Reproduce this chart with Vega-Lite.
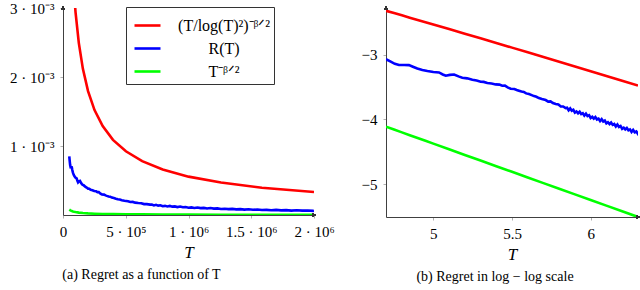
{
  "$schema": "https://vega.github.io/schema/vega-lite/v6.json",
  "padding": {"top": 1, "left": 0, "right": 0, "bottom": 0},
  "autosize": {"type": "pad"},
  "background": "white",
  "config": {
    "font": "Liberation Serif",
    "style": {"guide-label": {"font": "Liberation Serif"}, "guide-title": {"font": "Liberation Serif"}, "group-title": {"font": "Liberation Serif"}},
    "view": {"stroke": null},
    "axis": {"grid": false, "domainColor": "#404040", "domainWidth": 1, "tickColor": "#b0b0b0", "tickSize": 3, "labelFont": "Liberation Serif", "labelFontSize": 15, "labelColor": "black", "labelPadding": 6, "titleFont": "Liberation Serif", "titleFontStyle": "italic", "titleFontWeight": "normal", "titleFontSize": 17, "titleColor": "black", "labelFlush": false, "labelOverlap": false},
    "legend": {"labelFont": "Liberation Serif"},
    "title": {"font": "Liberation Serif", "fontSize": 14, "fontWeight": "normal", "color": "black"}
  },
  "datasets": {
    "d": [
      {"s": "(T/log(T)²)⁻ᵝᐟ²", "T": 50000, "R": 0.004786, "lT": 4.699, "lR": -2.320},
      {"s": "(T/log(T)²)⁻ᵝᐟ²", "T": 56234, "R": 0.004416, "lT": 4.75, "lR": -2.355},
      {"s": "(T/log(T)²)⁻ᵝᐟ²", "T": 63096, "R": 0.004074, "lT": 4.8, "lR": -2.390},
      {"s": "(T/log(T)²)⁻ᵝᐟ²", "T": 70795, "R": 0.003750, "lT": 4.85, "lR": -2.426},
      {"s": "(T/log(T)²)⁻ᵝᐟ²", "T": 79433, "R": 0.003459, "lT": 4.9, "lR": -2.461},
      {"s": "(T/log(T)²)⁻ᵝᐟ²", "T": 89125, "R": 0.003192, "lT": 4.95, "lR": -2.496},
      {"s": "(T/log(T)²)⁻ᵝᐟ²", "T": 100000, "R": 0.002938, "lT": 5.0, "lR": -2.532},
      {"s": "(T/log(T)²)⁻ᵝᐟ²", "T": 125893, "R": 0.002495, "lT": 5.1, "lR": -2.603},
      {"s": "(T/log(T)²)⁻ᵝᐟ²", "T": 158489, "R": 0.002118, "lT": 5.2, "lR": -2.674},
      {"s": "(T/log(T)²)⁻ᵝᐟ²", "T": 199526, "R": 0.001795, "lT": 5.3, "lR": -2.746},
      {"s": "(T/log(T)²)⁻ᵝᐟ²", "T": 251189, "R": 0.001521, "lT": 5.4, "lR": -2.818},
      {"s": "(T/log(T)²)⁻ᵝᐟ²", "T": 316228, "R": 0.001288, "lT": 5.5, "lR": -2.890},
      {"s": "(T/log(T)²)⁻ᵝᐟ²", "T": 398107, "R": 0.001089, "lT": 5.6, "lR": -2.963},
      {"s": "(T/log(T)²)⁻ᵝᐟ²", "T": 501187, "R": 0.000923, "lT": 5.7, "lR": -3.035},
      {"s": "(T/log(T)²)⁻ᵝᐟ²", "T": 630957, "R": 0.000780, "lT": 5.8, "lR": -3.108},
      {"s": "(T/log(T)²)⁻ᵝᐟ²", "T": 794328, "R": 0.000659, "lT": 5.9, "lR": -3.181},
      {"s": "(T/log(T)²)⁻ᵝᐟ²", "T": 1000000, "R": 0.000556, "lT": 6.0, "lR": -3.255},
      {"s": "(T/log(T)²)⁻ᵝᐟ²", "T": 1258925, "R": 0.000470, "lT": 6.1, "lR": -3.328},
      {"s": "(T/log(T)²)⁻ᵝᐟ²", "T": 1584893, "R": 0.000396, "lT": 6.2, "lR": -3.402},
      {"s": "(T/log(T)²)⁻ᵝᐟ²", "T": 2000000, "R": 0.000333, "lT": 6.301, "lR": -3.477},

      {"s": "R(T)", "T": 50000, "R": 0.000851, "lT": 4.699, "lR": -3.070},
      {"s": "R(T)", "T": 53580, "R": 0.000780, "lT": 4.729, "lR": -3.108},
      {"s": "R(T)", "T": 56885, "R": 0.000724, "lT": 4.755, "lR": -3.140},
      {"s": "R(T)", "T": 60534, "R": 0.000693, "lT": 4.782, "lR": -3.159},
      {"s": "R(T)", "T": 65313, "R": 0.000695, "lT": 4.815, "lR": -3.158},
      {"s": "R(T)", "T": 69984, "R": 0.000692, "lT": 4.845, "lR": -3.160},
      {"s": "R(T)", "T": 74131, "R": 0.000653, "lT": 4.870, "lR": -3.185},
      {"s": "R(T)", "T": 79068, "R": 0.000614, "lT": 4.898, "lR": -3.212},
      {"s": "R(T)", "T": 85114, "R": 0.000582, "lT": 4.930, "lR": -3.235},
      {"s": "R(T)", "T": 91622, "R": 0.000560, "lT": 4.962, "lR": -3.252},
      {"s": "R(T)", "T": 100000, "R": 0.000540, "lT": 5.000, "lR": -3.268},
      {"s": "R(T)", "T": 108643, "R": 0.000532, "lT": 5.036, "lR": -3.274},
      {"s": "R(T)", "T": 114815, "R": 0.000495, "lT": 5.060, "lR": -3.305},
      {"s": "R(T)", "T": 119950, "R": 0.000473, "lT": 5.079, "lR": -3.325},
      {"s": "R(T)", "T": 127350, "R": 0.000488, "lT": 5.105, "lR": -3.312},
      {"s": "R(T)", "T": 135519, "R": 0.000495, "lT": 5.132, "lR": -3.305},
      {"s": "R(T)", "T": 144544, "R": 0.000462, "lT": 5.160, "lR": -3.335},
      {"s": "R(T)", "T": 152757, "R": 0.000441, "lT": 5.184, "lR": -3.356},
      {"s": "R(T)", "T": 164059, "R": 0.000432, "lT": 5.215, "lR": -3.365},
      {"s": "R(T)", "T": 177011, "R": 0.000410, "lT": 5.248, "lR": -3.387},
      {"s": "R(T)", "T": 188365, "R": 0.000398, "lT": 5.275, "lR": -3.400},
      {"s": "R(T)", "T": 199986, "R": 0.000382, "lT": 5.301, "lR": -3.418},
      {"s": "R(T)", "T": 208930, "R": 0.000380, "lT": 5.320, "lR": -3.420},
      {"s": "R(T)", "T": 220293, "R": 0.000365, "lT": 5.343, "lR": -3.438},
      {"s": "R(T)", "T": 234423, "R": 0.000359, "lT": 5.370, "lR": -3.445},
      {"s": "R(T)", "T": 248886, "R": 0.000348, "lT": 5.396, "lR": -3.459},
      {"s": "R(T)", "T": 263027, "R": 0.000345, "lT": 5.420, "lR": -3.462},
      {"s": "R(T)", "T": 274157, "R": 0.000331, "lT": 5.438, "lR": -3.480},
      {"s": "R(T)", "T": 285102, "R": 0.000333, "lT": 5.455, "lR": -3.478},
      {"s": "R(T)", "T": 298538, "R": 0.000310, "lT": 5.475, "lR": -3.508},
      {"s": "R(T)", "T": 310456, "R": 0.000298, "lT": 5.492, "lR": -3.526},
      {"s": "R(T)", "T": 327341, "R": 0.000295, "lT": 5.515, "lR": -3.530},
      {"s": "R(T)", "T": 338844, "R": 0.000285, "lT": 5.530, "lR": -3.545},
      {"s": "R(T)", "T": 349945, "R": 0.000277, "lT": 5.544, "lR": -3.557},
      {"s": "R(T)", "T": 363078, "R": 0.000269, "lT": 5.560, "lR": -3.570},
      {"s": "R(T)", "T": 375837, "R": 0.000266, "lT": 5.575, "lR": -3.575},
      {"s": "R(T)", "T": 389045, "R": 0.000252, "lT": 5.590, "lR": -3.598},
      {"s": "R(T)", "T": 405509, "R": 0.000247, "lT": 5.608, "lR": -3.608},
      {"s": "R(T)", "T": 421697, "R": 0.000237, "lT": 5.625, "lR": -3.625},
      {"s": "R(T)", "T": 436516, "R": 0.000229, "lT": 5.640, "lR": -3.640},
      {"s": "R(T)", "T": 451856, "R": 0.000224, "lT": 5.655, "lR": -3.650},
      {"s": "R(T)", "T": 468813, "R": 0.000214, "lT": 5.671, "lR": -3.670},
      {"s": "R(T)", "T": 489779, "R": 0.000207, "lT": 5.690, "lR": -3.685},
      {"s": "R(T)", "T": 517607, "R": 0.000199, "lT": 5.714, "lR": -3.701},
      {"s": "R(T)", "T": 537032, "R": 0.000188, "lT": 5.730, "lR": -3.725},
      {"s": "R(T)", "T": 555904, "R": 0.000190, "lT": 5.745, "lR": -3.722},
      {"s": "R(T)", "T": 575440, "R": 0.000179, "lT": 5.760, "lR": -3.748},
      {"s": "R(T)", "T": 599791, "R": 0.000173, "lT": 5.778, "lR": -3.763},
      {"s": "R(T)", "T": 623735, "R": 0.000170, "lT": 5.795, "lR": -3.770},
      {"s": "R(T)", "T": 645654, "R": 0.000158, "lT": 5.810, "lR": -3.800},
      {"s": "R(T)", "T": 668344, "R": 0.000158, "lT": 5.825, "lR": -3.800},
      {"s": "R(T)", "T": 693426, "R": 0.000150, "lT": 5.841, "lR": -3.824},
      {"s": "R(T)", "T": 707946, "R": 0.00015136, "lT": 5.85, "lR": -3.820},
      {"s": "R(T)", "T": 724436, "R": 0.00013836, "lT": 5.86, "lR": -3.859},
      {"s": "R(T)", "T": 741310, "R": 0.00014825, "lT": 5.87, "lR": -3.829},
      {"s": "R(T)", "T": 758578, "R": 0.00013614, "lT": 5.88, "lR": -3.866},
      {"s": "R(T)", "T": 776247, "R": 0.00014093, "lT": 5.89, "lR": -3.851},
      {"s": "R(T)", "T": 794328, "R": 0.00012764, "lT": 5.90, "lR": -3.894},
      {"s": "R(T)", "T": 812831, "R": 0.00013274, "lT": 5.91, "lR": -3.877},
      {"s": "R(T)", "T": 831764, "R": 0.00012445, "lT": 5.92, "lR": -3.905},
      {"s": "R(T)", "T": 851138, "R": 0.00013152, "lT": 5.93, "lR": -3.881},
      {"s": "R(T)", "T": 870964, "R": 0.00012078, "lT": 5.94, "lR": -3.918},
      {"s": "R(T)", "T": 891251, "R": 0.00012474, "lT": 5.95, "lR": -3.904},
      {"s": "R(T)", "T": 912011, "R": 0.00011429, "lT": 5.96, "lR": -3.942},
      {"s": "R(T)", "T": 933254, "R": 0.00012218, "lT": 5.97, "lR": -3.913},
      {"s": "R(T)", "T": 954993, "R": 0.00011246, "lT": 5.98, "lR": -3.949},
      {"s": "R(T)", "T": 977237, "R": 0.00011614, "lT": 5.99, "lR": -3.935},
      {"s": "R(T)", "T": 1000000, "R": 0.00010520, "lT": 6.00, "lR": -3.978},
      {"s": "R(T)", "T": 1023293, "R": 0.00010965, "lT": 6.01, "lR": -3.960},
      {"s": "R(T)", "T": 1047129, "R": 0.00010257, "lT": 6.02, "lR": -3.989},
      {"s": "R(T)", "T": 1071519, "R": 0.00010839, "lT": 6.03, "lR": -3.965},
      {"s": "R(T)", "T": 1096478, "R": 0.00009977, "lT": 6.04, "lR": -4.001},
      {"s": "R(T)", "T": 1122018, "R": 0.00010280, "lT": 6.05, "lR": -3.988},
      {"s": "R(T)", "T": 1148154, "R": 0.00009419, "lT": 6.06, "lR": -4.026},
      {"s": "R(T)", "T": 1174898, "R": 0.00010069, "lT": 6.07, "lR": -3.997},
      {"s": "R(T)", "T": 1202264, "R": 0.00009268, "lT": 6.08, "lR": -4.033},
      {"s": "R(T)", "T": 1230269, "R": 0.00009594, "lT": 6.09, "lR": -4.018},
      {"s": "R(T)", "T": 1258925, "R": 0.00008670, "lT": 6.10, "lR": -4.062},
      {"s": "R(T)", "T": 1288250, "R": 0.00009036, "lT": 6.11, "lR": -4.044},
      {"s": "R(T)", "T": 1318257, "R": 0.00008472, "lT": 6.12, "lR": -4.072},
      {"s": "R(T)", "T": 1348963, "R": 0.00008933, "lT": 6.13, "lR": -4.049},
      {"s": "R(T)", "T": 1380384, "R": 0.00008222, "lT": 6.14, "lR": -4.085},
      {"s": "R(T)", "T": 1412538, "R": 0.00008472, "lT": 6.15, "lR": -4.072},
      {"s": "R(T)", "T": 1445440, "R": 0.00007762, "lT": 6.16, "lR": -4.110},
      {"s": "R(T)", "T": 1479108, "R": 0.00008318, "lT": 6.17, "lR": -4.080},
      {"s": "R(T)", "T": 1513561, "R": 0.00007638, "lT": 6.18, "lR": -4.117},
      {"s": "R(T)", "T": 1548817, "R": 0.00007907, "lT": 6.19, "lR": -4.102},
      {"s": "R(T)", "T": 1584893, "R": 0.00007161, "lT": 6.20, "lR": -4.145},
      {"s": "R(T)", "T": 1621810, "R": 0.00007447, "lT": 6.21, "lR": -4.128},
      {"s": "R(T)", "T": 1659587, "R": 0.00006982, "lT": 6.22, "lR": -4.156},
      {"s": "R(T)", "T": 1698244, "R": 0.00007362, "lT": 6.23, "lR": -4.133},
      {"s": "R(T)", "T": 1737801, "R": 0.00006776, "lT": 6.24, "lR": -4.169},
      {"s": "R(T)", "T": 1778279, "R": 0.00006998, "lT": 6.25, "lR": -4.155},
      {"s": "R(T)", "T": 1819701, "R": 0.00006397, "lT": 6.26, "lR": -4.194},
      {"s": "R(T)", "T": 1862087, "R": 0.00006855, "lT": 6.27, "lR": -4.164},
      {"s": "R(T)", "T": 1905461, "R": 0.00006310, "lT": 6.28, "lR": -4.200},
      {"s": "R(T)", "T": 1949845, "R": 0.00006516, "lT": 6.29, "lR": -4.186},
      {"s": "R(T)", "T": 1995262, "R": 0.00006012, "lT": 6.30, "lR": -4.221},
      {"s": "R(T)", "T": 2000000, "R": 0.00006237, "lT": 6.301, "lR": -4.205},

      {"s": "T⁻ᵝᐟ²", "T": 50000, "R": 0.0000771, "lT": 4.699, "lR": -4.113},
      {"s": "T⁻ᵝᐟ²", "T": 56234, "R": 0.0000697, "lT": 4.75, "lR": -4.157},
      {"s": "T⁻ᵝᐟ²", "T": 63096, "R": 0.0000630, "lT": 4.8, "lR": -4.201},
      {"s": "T⁻ᵝᐟ²", "T": 70795, "R": 0.0000569, "lT": 4.85, "lR": -4.245},
      {"s": "T⁻ᵝᐟ²", "T": 79433, "R": 0.0000515, "lT": 4.9, "lR": -4.288},
      {"s": "T⁻ᵝᐟ²", "T": 89125, "R": 0.0000466, "lT": 4.95, "lR": -4.332},
      {"s": "T⁻ᵝᐟ²", "T": 100000, "R": 0.0000422, "lT": 5.0, "lR": -4.375},
      {"s": "T⁻ᵝᐟ²", "T": 125893, "R": 0.0000344, "lT": 5.1, "lR": -4.463},
      {"s": "T⁻ᵝᐟ²", "T": 158489, "R": 0.0000282, "lT": 5.2, "lR": -4.550},
      {"s": "T⁻ᵝᐟ²", "T": 199526, "R": 0.0000231, "lT": 5.3, "lR": -4.637},
      {"s": "T⁻ᵝᐟ²", "T": 251189, "R": 0.0000189, "lT": 5.4, "lR": -4.724},
      {"s": "T⁻ᵝᐟ²", "T": 316228, "R": 0.0000155, "lT": 5.5, "lR": -4.811},
      {"s": "T⁻ᵝᐟ²", "T": 398107, "R": 0.0000126, "lT": 5.6, "lR": -4.899},
      {"s": "T⁻ᵝᐟ²", "T": 501187, "R": 0.0000103, "lT": 5.7, "lR": -4.986},
      {"s": "T⁻ᵝᐟ²", "T": 630957, "R": 0.00000845, "lT": 5.8, "lR": -5.073},
      {"s": "T⁻ᵝᐟ²", "T": 794328, "R": 0.00000692, "lT": 5.9, "lR": -5.160},
      {"s": "T⁻ᵝᐟ²", "T": 1000000, "R": 0.00000566, "lT": 6.0, "lR": -5.247},
      {"s": "T⁻ᵝᐟ²", "T": 1258925, "R": 0.00000463, "lT": 6.1, "lR": -5.334},
      {"s": "T⁻ᵝᐟ²", "T": 1584893, "R": 0.00000378, "lT": 6.2, "lR": -5.422},
      {"s": "T⁻ᵝᐟ²", "T": 2000000, "R": 0.00000309, "lT": 6.301, "lR": -5.510}
    ]
  },
  "spacing": 72,
  "bounds": "flush",
  "hconcat": [
    {
      "width": 251,
      "height": 207,
      "data": {"name": "d"},
      "title": {"text": "(a) Regret as a function of T", "orient": "bottom", "offset": 8, "frame": "group", "dx": -47, "font": "Liberation Serif", "fontSize": 14, "fontWeight": "normal"},
      "layer": [
        {
          "mark": {"type": "line", "clip": true, "strokeWidth": 2.6},
          "encoding": {
            "x": {"field": "T", "type": "quantitative", "scale": {"domain": [0, 2000000], "nice": false, "zero": false},
              "axis": {"values": [0, 500000, 1000000, 1500000, 2000000], "title": "T", "titlePadding": 5, "labelFont": "Liberation Serif", "titleFont": "Liberation Serif",
                "labelExpr": "datum.value == 0 ? '0' : datum.value == 500000 ? '5 · 10⁵' : datum.value == 1000000 ? '1 · 10⁶' : datum.value == 1500000 ? '1.5 · 10⁶' : '2 · 10⁶'"}},
            "y": {"field": "R", "type": "quantitative", "scale": {"domain": [0, 0.003], "nice": false},
              "axis": {"values": [0.001, 0.002, 0.003], "title": null, "minExtent": 63, "maxExtent": 63, "labelFont": "Liberation Serif",
                "labelExpr": "datum.value < 0.0015 ? '1 · 10⁻³' : datum.value < 0.0025 ? '2 · 10⁻³' : '3 · 10⁻³'"}},
            "color": {"field": "s", "type": "nominal",
              "scale": {"domain": ["(T/log(T)²)⁻ᵝᐟ²", "R(T)", "T⁻ᵝᐟ²"], "range": ["#ff0000", "#0000ff", "#00ff00"]},
              "legend": {"orient": "none", "legendX": 63, "legendY": -1, "title": null, "strokeColor": "#333333", "fillColor": "white", "padding": 4,
                "symbolType": "stroke", "symbolSize": 676, "symbolStrokeWidth": 2.6, "symbolOffset": 3, "labelFontSize": 16, "labelFont": "Liberation Serif",
                "labelAlign": "center", "labelOffset": 62, "rowPadding": -2.5, "labelLimit": 300}}
          }
        },
        {
          "mark": {"type": "point", "shape": "triangle-up", "filled": true, "size": 16, "color": "#333333", "opacity": 1, "clip": false},
          "encoding": {"x": {"datum": 0, "type": "quantitative"}, "y": {"datum": 0.003, "type": "quantitative"}}
        },
        {
          "mark": {"type": "point", "shape": "triangle-right", "filled": true, "size": 16, "color": "#333333", "opacity": 1, "clip": false},
          "encoding": {"x": {"datum": 2000000, "type": "quantitative"}, "y": {"datum": 0, "type": "quantitative"}}
        }
      ]
    },
    {
      "width": 252,
      "height": 209,
      "data": {"name": "d"},
      "title": {"text": "(b) Regret in log − log scale", "orient": "bottom", "offset": 8, "frame": "group", "dx": -17, "font": "Liberation Serif", "fontSize": 14, "fontWeight": "normal"},
      "layer": [
        {
          "mark": {"type": "line", "clip": true, "strokeWidth": 2.6},
          "encoding": {
            "x": {"field": "lT", "type": "quantitative", "scale": {"domain": [4.699, 6.301], "nice": false, "zero": false},
              "axis": {"values": [5, 5.5, 6], "title": "T", "titlePadding": 5, "labelFont": "Liberation Serif", "titleFont": "Liberation Serif",
                "labelExpr": "datum.value == 5 ? '5' : datum.value == 6 ? '6' : '5.5'"}},
            "y": {"field": "lR", "type": "quantitative", "scale": {"domain": [-5.51, -2.277], "nice": false, "zero": false},
              "axis": {"values": [-5, -4, -3], "title": null, "labelFont": "Liberation Serif",
                "labelExpr": "datum.value == -5 ? '−5' : datum.value == -4 ? '−4' : '−3'"}},
            "color": {"field": "s", "type": "nominal",
              "scale": {"domain": ["(T/log(T)²)⁻ᵝᐟ²", "R(T)", "T⁻ᵝᐟ²"], "range": ["#ff0000", "#0000ff", "#00ff00"]},
              "legend": null}
          }
        },
        {
          "mark": {"type": "point", "shape": "triangle-up", "filled": true, "size": 16, "color": "#333333", "opacity": 1, "clip": false},
          "encoding": {"x": {"datum": 4.699, "type": "quantitative"}, "y": {"datum": -2.277, "type": "quantitative"}}
        },
        {
          "mark": {"type": "point", "shape": "triangle-right", "filled": true, "size": 16, "color": "#333333", "opacity": 1, "clip": false},
          "encoding": {"x": {"datum": 6.301, "type": "quantitative"}, "y": {"datum": -5.51, "type": "quantitative"}}
        }
      ]
    }
  ]
}
